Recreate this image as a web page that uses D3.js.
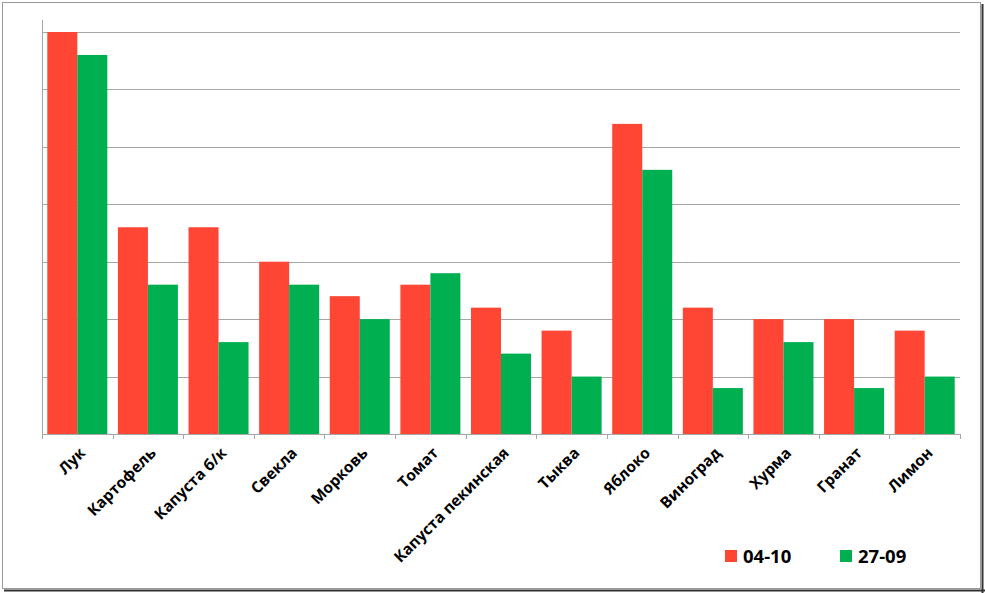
<!DOCTYPE html>
<html><head><meta charset="utf-8">
<script src="https://cdn.jsdelivr.net/npm/d3@7"></script>
<style>body{margin:0;background:#fff}svg{display:block}</style>
</head><body>
<svg id="c" width="985" height="593"></svg>
<script>
const categories = ["Лук","Картофель","Капуста б/к","Свекла","Морковь","Томат","Капуста пекинская","Тыква","Яблоко","Виноград","Хурма","Гранат","Лимон"];
const seriesNames = ["04-10","27-09"];
const values0410 = [70,36,36,30,24,26,22,18,54,22,20,20,18];
const values2709 = [66,26,16,26,20,28,14,10,46,8,16,8,10];
const yTicks = [0,10,20,30,40,50,60,70];
const colors = ["#FF4533","#00B050"];

(function(){
const svg = d3.select("#c");
// frame
svg.append("rect").attr("x",2.5).attr("y",2.5).attr("width",978).attr("height",586)
  .attr("fill","#fff").attr("stroke","#9a9a9a").attr("stroke-width",1);
svg.append("line").attr("x1",982.5).attr("x2",982.5).attr("y1",4).attr("y2",593).attr("stroke","#333").attr("stroke-width",2);
svg.append("line").attr("x1",4).attr("x2",985).attr("y1",590.5).attr("y2",590.5).attr("stroke","#333").attr("stroke-width",2);

const pL = 42, pR = 960, pT = 32, pB = 434;
const x = d3.scaleBand().domain(categories).range([pL,pR]).paddingInner(0.15).paddingOuter(0.075);
const xs = d3.scaleBand().domain(seriesNames).range([0,x.bandwidth()]);
const y = d3.scaleLinear().domain([0,70]).range([pB,pT]);

// gridlines
svg.append("g").selectAll("line").data(yTicks.slice(1)).join("line")
  .attr("x1",pL).attr("x2",pR)
  .attr("y1",d=>Math.round(y(d))+0.5).attr("y2",d=>Math.round(y(d))+0.5)
  .attr("stroke","#a6a6a6").attr("stroke-width",1);

// bars
const data = categories.map((c,i)=>({c, v:[values0410[i],values2709[i]]}));
const g = svg.append("g");
g.selectAll("g").data(data).join("g")
  .attr("transform",d=>`translate(${x(d.c)},0)`)
  .selectAll("rect").data(d=>d.v.map((v,j)=>({s:seriesNames[j],v,j}))).join("rect")
  .attr("x",d=>xs(d.s)).attr("width",xs.bandwidth())
  .attr("y",d=>y(d.v)).attr("height",d=>pB-y(d.v))
  .attr("fill",d=>colors[d.j]);

// y axis line
svg.append("line").attr("x1",pL+0.5).attr("x2",pL+0.5).attr("y1",20).attr("y2",pB)
  .attr("stroke","#a6a6a6");
// x axis
const step = (pR-pL)/categories.length;
const xAxis = d3.axisBottom(x).tickSize(0).tickFormat("");
const ax = svg.append("g").attr("transform",`translate(0,${pB+0.5})`).call(xAxis);
ax.select(".domain").attr("stroke","#a6a6a6").attr("d",`M${pL},0H${pR}`);
// tick marks at category boundaries
svg.append("g").selectAll("line").data(d3.range(categories.length+1)).join("line")
  .attr("x1",i=>Math.round(pL+i*step)+0.5).attr("x2",i=>Math.round(pL+i*step)+0.5)
  .attr("y1",pB).attr("y2",pB+5).attr("stroke","#a6a6a6");

// labels
svg.append("g").selectAll("text").data(categories).join("text")
  .attr("transform",d=>`translate(${x(d)+x.bandwidth()/2+9},${pB+20}) rotate(-45)`)
  .attr("text-anchor","end")
  .attr("font-family","'Open Sans', 'Liberation Sans', sans-serif")
  .attr("font-weight","bold").attr("font-size",15.5).attr("fill","#000")
  .text(d=>d);

// legend
const leg = svg.append("g");
const legX = [725, 840];
seriesNames.forEach((s,i)=>{
  leg.append("rect").attr("x",legX[i]).attr("y",550).attr("width",12).attr("height",12).attr("fill",colors[i]);
  leg.append("text").attr("x",legX[i]+18).attr("y",563)
    .attr("font-family","'Open Sans', 'Liberation Sans', sans-serif")
    .attr("font-weight","bold").attr("font-size",18.5).text(s);
});
})();
</script>
</body></html>
